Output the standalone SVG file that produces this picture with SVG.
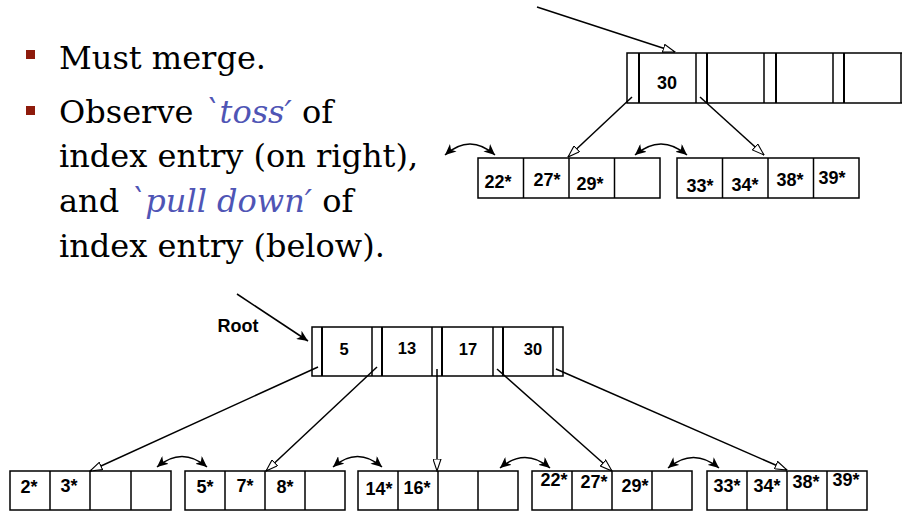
<svg xmlns="http://www.w3.org/2000/svg" width="902" height="512" viewBox="0 0 902 512">
<style>
.bx{fill:#fff;stroke:#000;stroke-width:1.5}
.dv{stroke:#000;stroke-width:1.5}
.dvt{stroke:#000;stroke-width:2}
.k{font-family:"Liberation Sans",Arial,sans-serif;font-weight:bold;font-size:18px;text-anchor:middle;fill:#000}
.ki{font-family:"Liberation Sans",Arial,sans-serif;font-weight:bold;font-size:16.5px;text-anchor:middle;fill:#000}
.body{font-family:"DejaVu Serif","Liberation Serif",serif;font-size:32px;fill:#000}
.em{font-style:italic;fill:#4F55B5}
.ln{fill:none;stroke:#000;stroke-width:1.5}
</style>
<defs>
<marker id="hollow" viewBox="0 0 13 9" refX="12.5" refY="4.5" markerWidth="13" markerHeight="9" markerUnits="userSpaceOnUse" orient="auto">
<path d="M0.5,0.5 L12.5,4.5 L0.5,8.5 z" fill="#fff" stroke="#000" stroke-width="1.1"/>
</marker>
<marker id="solid" viewBox="0 0 11 10" refX="11" refY="5" markerWidth="11" markerHeight="10" markerUnits="userSpaceOnUse" orient="auto-start-reverse">
<path d="M0,0 L11,5 L0,10 L3,5 z" fill="#000"/>
</marker>
</defs>

<g id="text">
<rect x="26" y="50" width="9" height="9" fill="#8E1B0C"/>
<rect x="26" y="106" width="9" height="9" fill="#8E1B0C"/>
<text class="body" x="59" y="69">Must merge.</text>
<text class="body" x="59" y="123">Observe <tspan class="em">`toss′</tspan> of</text>
<text class="body" x="59" y="167">index entry (on right),</text>
<text class="body" x="59" y="212">and <tspan class="em">`pull down′</tspan> of</text>
<text class="body" x="59" y="257">index entry (below).</text>
</g>

<!-- top figure -->
<g id="top-index">
<rect class="bx" x="627" y="53" width="286" height="50"/>
<line class="dvt" x1="639" y1="53" x2="639" y2="103"/>
<line class="dv" x1="696" y1="53" x2="696" y2="103"/>
<line class="dvt" x1="707" y1="53" x2="707" y2="103"/>
<line class="dv" x1="764" y1="53" x2="764" y2="103"/>
<line class="dvt" x1="776" y1="53" x2="776" y2="103"/>
<line class="dv" x1="833" y1="53" x2="833" y2="103"/>
<line class="dvt" x1="844" y1="53" x2="844" y2="103"/>
<line class="dv" x1="901" y1="53" x2="901" y2="103"/>
<text class="k" x="667" y="89">30</text>
</g>
<g id="top-leaf-1">
<rect class="bx" x="478" y="158" width="182" height="40"/>
<line class="dv" x1="523.5" y1="158" x2="523.5" y2="198"/>
<line class="dv" x1="569" y1="158" x2="569" y2="198"/>
<line class="dv" x1="614.5" y1="158" x2="614.5" y2="198"/>
<text class="k" x="498" y="188">22*</text>
<text class="k" x="547" y="186">27*</text>
<text class="k" x="590" y="190">29*</text>
</g>
<g id="top-leaf-2">
<rect class="bx" x="677" y="158" width="182" height="40"/>
<line class="dv" x1="722.5" y1="158" x2="722.5" y2="198"/>
<line class="dv" x1="768" y1="158" x2="768" y2="198"/>
<line class="dv" x1="813.5" y1="158" x2="813.5" y2="198"/>
<text class="k" x="700" y="192">33*</text>
<text class="k" x="745" y="191">34*</text>
<text class="k" x="790" y="186">38*</text>
<text class="k" x="832" y="184">39*</text>
</g>

<!-- bottom figure -->
<g id="root-label">
<text class="k" x="238" y="332">Root</text>
</g>
<g id="root-index">
<rect class="bx" x="312" y="327" width="251" height="49"/>
<line class="dvt" x1="322" y1="327" x2="322" y2="376"/>
<line class="dv" x1="372" y1="327" x2="372" y2="376"/>
<line class="dvt" x1="382" y1="327" x2="382" y2="376"/>
<line class="dv" x1="432" y1="327" x2="432" y2="376"/>
<line class="dvt" x1="442" y1="327" x2="442" y2="376"/>
<line class="dv" x1="493" y1="327" x2="493" y2="376"/>
<line class="dvt" x1="503" y1="327" x2="503" y2="376"/>
<line class="dv" x1="553" y1="327" x2="553" y2="376"/>
<text class="ki" x="344" y="355">5</text>
<text class="ki" x="407" y="354">13</text>
<text class="ki" x="468" y="355">17</text>
<text class="ki" x="533" y="355">30</text>
</g>
<g id="leaf-a">
<rect class="bx" x="10" y="471" width="161" height="39"/>
<line class="dv" x1="50" y1="471" x2="50" y2="510"/>
<line class="dv" x1="90" y1="471" x2="90" y2="510"/>
<line class="dv" x1="131" y1="471" x2="131" y2="510"/>
<text class="k" x="29" y="493">2*</text>
<text class="k" x="69" y="492">3*</text>
</g>
<g id="leaf-b">
<rect class="bx" x="185" y="471" width="160" height="39"/>
<line class="dv" x1="225" y1="471" x2="225" y2="510"/>
<line class="dv" x1="265" y1="471" x2="265" y2="510"/>
<line class="dv" x1="305" y1="471" x2="305" y2="510"/>
<text class="k" x="205" y="493">5*</text>
<text class="k" x="245" y="492">7*</text>
<text class="k" x="285" y="493">8*</text>
</g>
<g id="leaf-c">
<rect class="bx" x="358" y="471" width="160" height="39"/>
<line class="dv" x1="398" y1="471" x2="398" y2="510"/>
<line class="dv" x1="438" y1="471" x2="438" y2="510"/>
<line class="dv" x1="478" y1="471" x2="478" y2="510"/>
<text class="k" x="379" y="495">14*</text>
<text class="k" x="417" y="494">16*</text>
</g>
<g id="leaf-d">
<rect class="bx" x="532" y="471" width="160" height="39"/>
<line class="dv" x1="572" y1="471" x2="572" y2="510"/>
<line class="dv" x1="612" y1="471" x2="612" y2="510"/>
<line class="dv" x1="652" y1="471" x2="652" y2="510"/>
<text class="k" x="554" y="486">22*</text>
<text class="k" x="594" y="488">27*</text>
<text class="k" x="635" y="492">29*</text>
</g>
<g id="leaf-e">
<rect class="bx" x="707" y="471" width="160" height="39"/>
<line class="dv" x1="747" y1="471" x2="747" y2="510"/>
<line class="dv" x1="787" y1="471" x2="787" y2="510"/>
<line class="dv" x1="827" y1="471" x2="827" y2="510"/>
<text class="k" x="727" y="492">33*</text>
<text class="k" x="767" y="492">34*</text>
<text class="k" x="806" y="488">38*</text>
<text class="k" x="846" y="486">39*</text>
</g>

<g id="connectors">
<!-- top figure -->
<line class="ln" x1="537" y1="7" x2="675" y2="52" marker-end="url(#hollow)"/>
<line class="ln" x1="632" y1="97" x2="568" y2="157" marker-end="url(#hollow)"/>
<line class="ln" x1="700" y1="97" x2="764" y2="155" marker-end="url(#hollow)"/>
<path class="ln" d="M445,155 Q470,133 495,155" marker-start="url(#solid)" marker-end="url(#solid)"/>
<path class="ln" d="M635,155 Q661,133 687,155" marker-start="url(#solid)" marker-end="url(#solid)"/>
<!-- bottom figure -->
<line class="ln" x1="237" y1="294" x2="308" y2="341" marker-end="url(#solid)"/>
<line class="ln" x1="318" y1="367" x2="90" y2="471" marker-end="url(#hollow)"/>
<line class="ln" x1="377" y1="367" x2="266" y2="471" marker-end="url(#hollow)"/>
<line class="ln" x1="437" y1="369" x2="437" y2="471" marker-end="url(#hollow)"/>
<line class="ln" x1="497" y1="369" x2="612" y2="471" marker-end="url(#hollow)"/>
<line class="ln" x1="556" y1="369" x2="787" y2="470" marker-end="url(#hollow)"/>
<path class="ln" d="M157,467 Q182,446 207,467" marker-start="url(#solid)" marker-end="url(#solid)"/>
<path class="ln" d="M333,467 Q357.5,446 382,467" marker-start="url(#solid)" marker-end="url(#solid)"/>
<path class="ln" d="M500,468 Q525,447 550,468" marker-start="url(#solid)" marker-end="url(#solid)"/>
<path class="ln" d="M668,468 Q693.5,447 719,468" marker-start="url(#solid)" marker-end="url(#solid)"/>
</g>
</svg>
